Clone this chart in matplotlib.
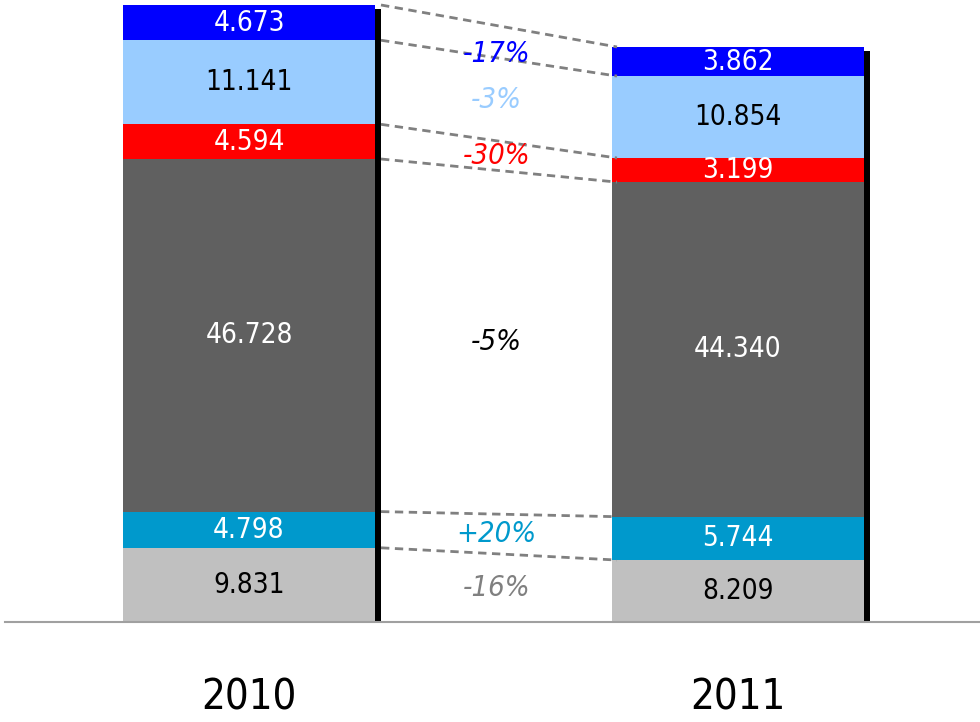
import numpy as np
import matplotlib.pyplot as plt

plt.rcParams['font.family'] = ['DejaVu Sans']
plt.rcParams['font.stretch'] = 'condensed'

# data (bottom to top)
years = ["2010", "2011"]
v2010 = [9.831, 4.798, 46.728, 4.594, 11.141, 4.673]
v2011 = [8.209, 5.744, 44.340, 3.199, 10.854, 3.862]
changes = ["-16%", "+20%", "-5%", "-30%", "-3%", "-17%"]

seg_colors = ["#C0C0C0", "#0099CC", "#606060", "#FF0000", "#99CCFF", "#0000FF"]
txt_colors = ["black", "white", "white", "white", "black", "white"]
pct_colors = ["#808080", "#0099CC", "black", "#FF0000", "#99CCFF", "#0000FF"]

fig = plt.figure(figsize=(9.8, 7.22), dpi=100)
ax = fig.add_axes([0, 0, 1, 1])

px_x = 489.0    # pixels per x unit
px_y = 7.546    # pixels per value unit
ax.set_xlim(-249 / px_x, (980 - 249) / px_x)
ax.set_ylim(-100 / px_y, 622 / px_y)
ax.axis("off")

w = 252 / px_x
sx = 6 / px_x
sy = 4 / px_y

data = np.array([v2010, v2011])
xs = np.arange(len(years))

for i, x in enumerate(xs):
    vals = data[i]
    total = vals.sum()
    # shadow on the right side
    ax.bar(x + sx, total - sy, width=w, color="black", zorder=1)
    bottom = 0
    for j, v in enumerate(vals):
        ax.bar(x, v, width=w, bottom=bottom, color=seg_colors[j], zorder=2)
        ax.text(x, bottom + v / 2, f"{v:.3f}", ha="center", va="center",
                fontsize=20, color=txt_colors[j], zorder=3)
        bottom += v
    ax.text(x, -76 / px_y, years[i], ha="center", va="center", fontsize=30,
            color="black")

# connector lines between segment boundaries
cum0 = np.concatenate([[0], np.cumsum(v2010)])
cum1 = np.concatenate([[0], np.cumsum(v2011)])
x_left = xs[0] + w / 2 + sx
x_right = xs[1] - w / 2 + 5 / px_x
for k in range(1, len(cum0)):
    ax.plot([x_left, x_right], [cum0[k], cum1[k]], color="#808080",
            linestyle=(0, (3, 2)), linewidth=2, zorder=4)

# change labels, placed between neighbouring connector lines
mid = (cum0 + cum1) / 2
xm = (x_left + xs[1] - w / 2) / 2
for j, lab in enumerate(changes):
    if j == len(changes) - 1:
        yl = mid[j] + 0.6
    else:
        yl = (mid[j] + mid[j + 1]) / 2
    ax.text(xm, yl, lab, ha="center", va="center",
            fontsize=21, style="italic", color=pct_colors[j], zorder=5)

# baseline
ax.plot([5 / px_x - 249 / px_x, (980 - 249) / px_x], [0, 0], color="#A0A0A0",
        linewidth=1.5, zorder=3)

fig.savefig("out.png", dpi=100)
